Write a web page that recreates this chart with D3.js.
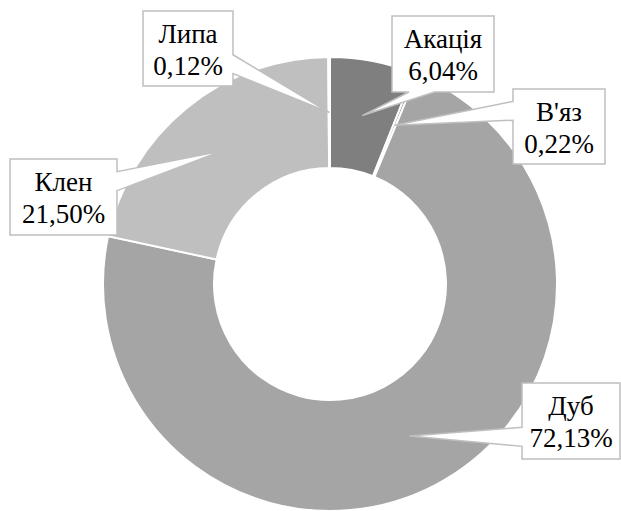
<!DOCTYPE html>
<html>
<head>
<meta charset="utf-8">
<script src="https://cdn.jsdelivr.net/npm/d3@7"></script>
</head>
<body style="margin:0;background:#fff">
<svg id="chart" width="621" height="511" style="display:block"></svg>
<script>
// ---- data ----
const categories = ["Акація", "В'яз", "Дуб", "Клен", "Липа"];
const values = [6.04, 0.22, 72.13, 21.50, 0.12];
const labels = ["6,04%", "0,22%", "72,13%", "21,50%", "0,12%"];
const colors = ["#7f7f7f", "#8c8c8c", "#a5a5a5", "#bfbfbf", "#c8c8c8"];

// ---- layout ----
const cx = 330, cy = 284;
const outerR = 227, innerR = 116;
const boxes = [
  [392, 16, 102, 76],
  [513, 89, 92, 75],
  [522, 383, 98, 76],
  [10, 159, 107, 76],
  [143, 11, 90, 75]
];
const FONT = '"Liberation Serif", "Times New Roman", serif';

const svg = d3.select("#chart");
const g = svg.append("g").attr("transform", `translate(${cx},${cy})`);
const pie = d3.pie().sort(null).value(d => d.v);
const data = categories.map((c, i) => ({ c, v: values[i], lab: labels[i], col: colors[i] }));
const arcs = pie(data);
const arc = d3.arc().innerRadius(innerR).outerRadius(outerR);

g.selectAll("path.slice").data(arcs).enter().append("path")
  .attr("class", "slice")
  .attr("d", arc).attr("fill", d => d.data.col)
  .attr("stroke", "#fff").attr("stroke-width", 2);

// Excel-style wedge rectangle callout
function calloutPath(b, tip) {
  const [x, y, w, h] = b;
  const hc = x + w / 2, vc = y + h / 2;
  const dx = tip[0] - hc, dy = tip[1] - vc;
  const dq = dx * h / w;
  let pts;
  const TL = [x, y], TR = [x + w, y], BR = [x + w, y + h], BL = [x, y + h];
  if (Math.abs(dy) > Math.abs(dq)) {
    const x1 = x + w * (dx > 0 ? 7 : 2) / 12, x2 = x + w * (dx > 0 ? 10 : 5) / 12;
    pts = dy > 0 ? [TL, TR, BR, [x2, y + h], tip, [x1, y + h], BL]
                 : [TL, [x1, y], tip, [x2, y], TR, BR, BL];
  } else {
    const y1 = y + h * (dy > 0 ? 7 : 2) / 12, y2 = y + h * (dy > 0 ? 10 : 5) / 12;
    pts = dx > 0 ? [TL, TR, [x + w, y1], tip, [x + w, y2], BR, BL]
                 : [TL, TR, BR, BL, [x, y2], tip, [x, y1]];
  }
  return "M" + pts.map(p => p[0] + "," + p[1]).join("L") + "Z";
}

arcs.forEach((a, i) => {
  const c = arc.centroid(a);
  const tip = [c[0] + cx, c[1] + cy];
  const b = boxes[i];
  const mx = b[0] + b[2] / 2;
  svg.append("path").attr("d", calloutPath(b, tip))
    .attr("fill", "#fff").attr("stroke", "#bfbfbf").attr("stroke-width", 1.5);
  svg.append("text").attr("x", mx).attr("y", b[1] + 32)
    .attr("text-anchor", "middle")
    .style("font-family", FONT).style("font-size", "27px")
    .text(a.data.c);
  svg.append("text").attr("x", mx).attr("y", b[1] + 64)
    .attr("text-anchor", "middle")
    .style("font-family", FONT).style("font-size", "27px")
    .text(a.data.lab);
});
</script>
</body>
</html>
